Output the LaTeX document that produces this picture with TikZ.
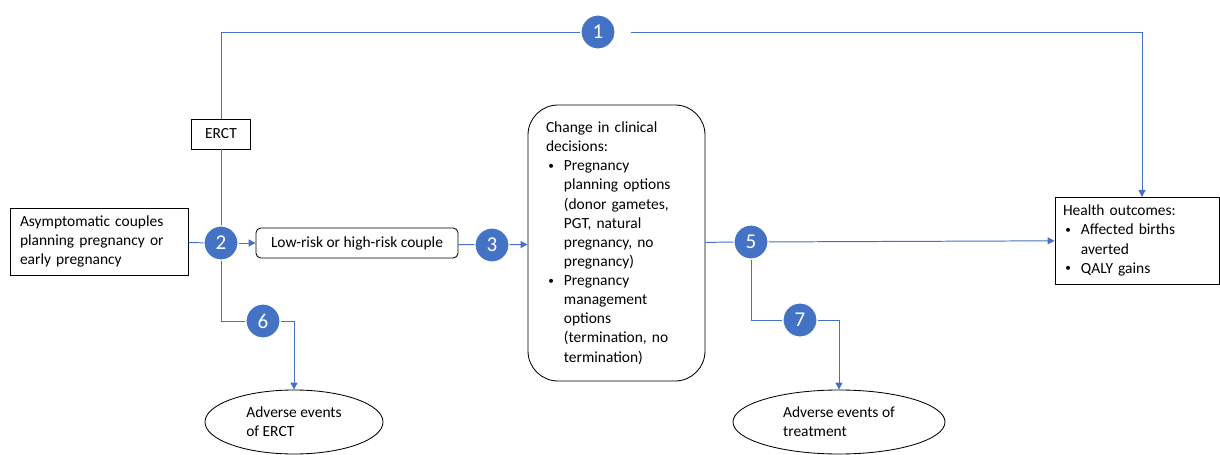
\documentclass[tikz,border=0pt]{standalone}
\usepackage{fontspec}
\setmainfont{Carlito}
\usetikzlibrary{shapes.geometric,arrows.meta}
\setlength{\parindent}{0pt}
\definecolor{lineblue}{HTML}{4472C4}
\newcommand{\bitem}{\makebox[1.16em][l]{\hspace{0.15em}\raisebox{0.08em}{\footnotesize\textbullet}}}
\newcommand{\bcont}{\hspace*{1.16em}}
\tikzset{
  txt/.style={font=\fontsize{11}{13.6}\selectfont},
  box/.style={txt, draw, rectangle, line width=0.6pt},
  rbox/.style={box, rounded corners=0.12cm},
  oval/.style={txt, draw, ellipse, line width=0.6pt, inner sep=0pt, align=left},
  num/.style={circle, fill=lineblue, draw=white, line width=0.8pt, minimum size=0.85cm,
    inner sep=0pt, text=white, font=\fontsize{15}{15}\selectfont},
  link/.style={draw=lineblue, line width=0.7pt},
  arr/.style={link, -{Triangle[length=5pt,width=5pt]}},
}
\begin{document}
\begin{tikzpicture}
\useasboundingbox (0,0) rectangle (30.5,-11.375);

% boxes
\node [box, text width=3.95cm, inner xsep=0.25cm, minimum height=1.675cm, align=left] (asym) at (2.475,-6.04)
  {Asymptomatic couples\\planning pregnancy or\\early pregnancy};
\node [box, minimum width=1.475cm, minimum height=0.75cm] (erct) at (5.525,-3.35) {ERCT};
\node [rbox, minimum width=5.05cm, minimum height=0.75cm] (low) at (8.925,-6.075) {Low-risk or high-risk couple};
\node [box, rounded corners=0.75cm, text width=3.525cm, inner xsep=0.45cm, minimum height=6.9cm, align=left] (change) at (15.4125,-6.075)
  {Change in clinical\\decisions:\\
   \bitem Pregnancy\\\bcont planning options\\\bcont (donor gametes,\\\bcont PGT, natural\\\bcont pregnancy, no\\\bcont pregnancy)\\
   \bitem Pregnancy\\\bcont management\\\bcont options\\\bcont (termination, no\\\bcont termination)};
\node [box, text width=3.7cm, inner xsep=0.2cm, minimum height=2.175cm, align=left] (health) at (28.425,-6.0125)
  {Health outcomes:\\\bitem Affected births\\\bcont averted\\\bitem QALY gains};
\node [oval, minimum width=4.45cm, minimum height=1.6cm] (ae1) at (7.35,-10.55) {Adverse events\\of ERCT};
\node [oval, minimum width=5.3cm, minimum height=1.6cm] (ae2) at (20.975,-10.55) {Adverse events of\\treatment};

% numbered circles
\node [num] (c1) at (14.95,-0.8) {1};
\node [num] (c2) at (5.525,-6.075) {2};
\node [num] (c3) at (12.3,-6.125) {3};
\node [num] (c5) at (18.775,-6.05) {5};
\node [num] (c6) at (6.575,-8.025) {6};
\node [num] (c7) at (20,-8) {7};
\coordinate (hin) at (28.55,-4.925);

% connectors
\draw [link] (erct) |- (c1);
\draw [arr, shorten <=0.38cm] (c1) -| (hin);
\draw [link] (erct) -- (c2);
\draw [link] (asym) -- (c2);
\draw [arr] (c2) -- (low);
\draw [link] (c2) |- (c6);
\draw [arr] (c6) -| (ae1);
\draw [link] (low) -- (c3);
\draw [arr] (c3) -- (change);
\draw [link] (change) -- (c5);
\draw [arr] (c5) -- (health);
\draw [link] (c5) |- (c7);
\draw [arr] (c7) -| (ae2);
\end{tikzpicture}
\end{document}
